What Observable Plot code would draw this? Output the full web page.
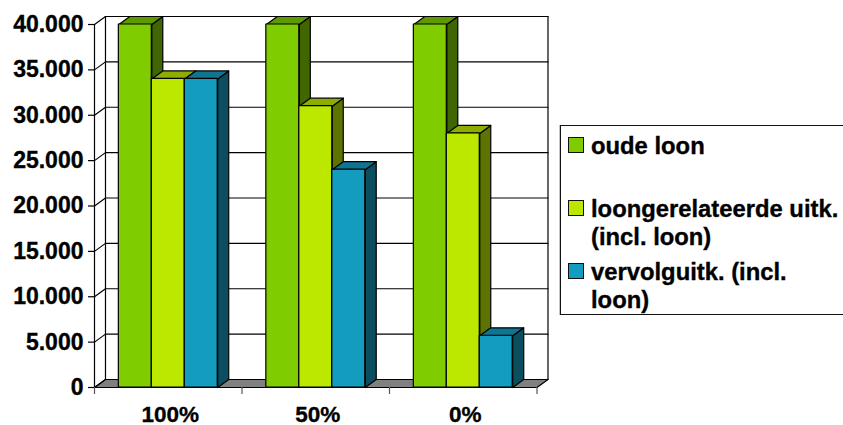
<!DOCTYPE html>
<html>
<head>
<meta charset="utf-8">
<script src="https://cdn.jsdelivr.net/npm/d3@7"></script>
<script src="https://cdn.jsdelivr.net/npm/@observablehq/plot@0.6"></script>
<style>
  html, body { margin: 0; padding: 0; background: #fff; overflow: hidden; }
  #wrap { position: relative; width: 843px; height: 425px; font-family: "Liberation Sans", Arial, sans-serif; font-weight: bold; color: #000; }
  #wrap svg { display: block; position: absolute; left: 0; top: 0; font-family: "Liberation Sans", Arial, sans-serif; }
  #wrap svg text { stroke: #000; stroke-width: 0.35px; }
  #legend { position: absolute; left: 560px; top: 125px; width: 300px; height: 188px; border: 1px solid #111; box-shadow: -0.5px 0 0 #888; }
  .item { position: absolute; left: 0; width: 290px; }
  .sw { position: absolute; left: 7px; width: 14px; height: 14px; border: 1px solid #111; }
  .tx { position: absolute; left: 30px; white-space: pre; font-size: 23.8px; line-height: 28px; -webkit-text-stroke: 0.35px #000; }
</style>
</head>
<body>
<div id="wrap"></div>
<script>
const categories = ["100%", "50%", "0%"];
const seriesNames = ["oude loon", "loongerelateerde uitk.\n(incl. loon)", "vervolguitk. (incl.\nloon)"];
const oudeLoon = [40000, 40000, 40000];
const loongerelateerd = [34000, 31000, 28000];
const vervolguitk = [34000, 24000, 5700];
const yTicks = [0, 5000, 10000, 15000, 20000, 25000, 30000, 35000, 40000];
const frontColors = ["#7fcc00", "#bce800", "#149cbf"];
const topColors = ["#5f9900", "#8dae00", "#0f7590"];
const sideColors = ["#3f6600", "#5e7400", "#0a4e60"];

const seriesValues = [oudeLoon, loongerelateerd, vervolguitk];
const depthX = 0.0745, depthY = 881;      // 3-D depth in data units
const gap = 0.165, barW = 0.2235;         // bar layout in category units
const nl = d3.formatLocale({decimal: ",", thousands: ".", grouping: [3], currency: ["", ""]});
const fmt = nl.format(",");

const ink = {stroke: "#000", strokeWidth: 1.2, curve: "linear", strokeLinejoin: "round"};
const xy = {x: d => d[0], y: d => d[1]};
const poly = (pts, fill) => Plot.line([...pts, pts[0]], {...xy, ...ink, fill});
const path = pts => Plot.line(pts, {...xy, ...ink});

const nCat = categories.length;
const walls = [
  poly([[0, 0], [depthX, depthY], [nCat + depthX, depthY], [nCat, 0]], "#808080"),
  ...yTicks.map(t => path([[0, t], [depthX, t + depthY], [nCat + depthX, t + depthY]])),
  path([[depthX, depthY], [depthX, 40000 + depthY]]),
  path([[nCat + depthX, depthY], [nCat + depthX, 40000 + depthY]]),
  path([[0, 0], [0, 40000]]),
  path([[0, 0], [nCat, 0]])
];

const bars = categories.flatMap((c, i) => seriesValues.flatMap((vals, s) => {
  const v = vals[i], x1 = i + gap + s * barW, x2 = x1 + barW;
  return [
    poly([[x2, 0], [x2 + depthX, depthY], [x2 + depthX, v + depthY], [x2, v]], sideColors[s]),
    poly([[x1, v], [x1 + depthX, v + depthY], [x2 + depthX, v + depthY], [x2, v]], topColors[s]),
    Plot.rect([{x1, x2, y1: 0, y2: v}], {x1: "x1", x2: "x2", y1: "y1", y2: "y2", fill: frontColors[s], ...ink})
  ];
}));

const chart = Plot.plot({
  width: 843, height: 425,
  marginLeft: 94, marginRight: 306.5, marginTop: 24, marginBottom: 38,
  style: {background: "transparent", fontFamily: "Liberation Sans, Arial, sans-serif", overflow: "visible"},
  x: {domain: [0, nCat], axis: null},
  y: {domain: [0, 40000], axis: null},
  marks: [
    ...walls,
    ...bars,
    Plot.axisY({ticks: yTicks, tickSize: 6, tickPadding: 5, tickFormat: fmt, label: null,
      fontSize: 23, fontWeight: "bold", color: "#000", strokeWidth: 1.2}),
    Plot.axisX({ticks: d3.range(nCat + 1), tickSize: 7, tickFormat: () => "", label: null, stroke: "#555", strokeWidth: 1.2}),
    Plot.axisX({ticks: categories.map((c, i) => i + 0.5), tickSize: 0, tickPadding: 19, dx: 2,
      tickFormat: d => categories[Math.floor(d)], label: null, fontSize: 22.5, fontWeight: "bold", color: "#000"})
  ]
});

const wrap = document.getElementById("wrap");
wrap.appendChild(chart);

const legend = document.createElement("div");
legend.id = "legend";
const rowTops = [6, 69, 132];
seriesNames.forEach((name, i) => {
  const item = document.createElement("div");
  item.className = "item";
  item.style.top = rowTops[i] + "px";
  const sw = document.createElement("div");
  sw.className = "sw";
  sw.style.background = frontColors[i];
  sw.style.top = "5px";
  const tx = document.createElement("div");
  tx.className = "tx";
  tx.textContent = name;
  item.append(sw, tx);
  legend.appendChild(item);
});
wrap.appendChild(legend);
</script>
</body>
</html>
